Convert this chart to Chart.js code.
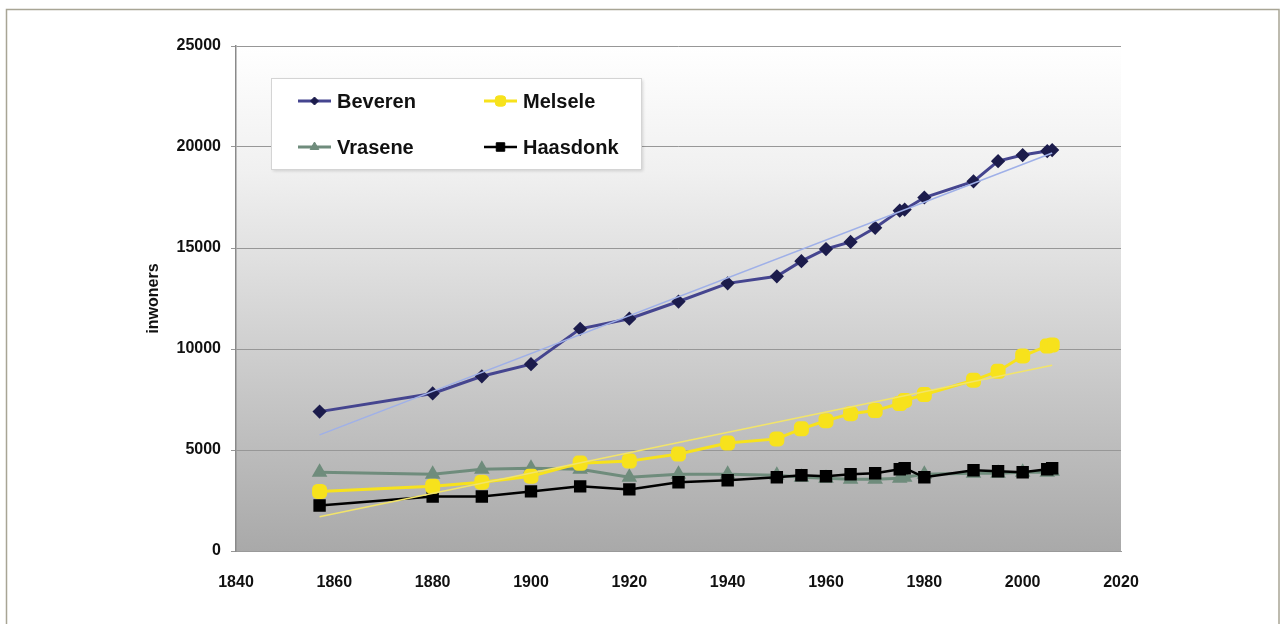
<!DOCTYPE html>
<html>
<head>
<meta charset="utf-8">
<script src="https://cdn.jsdelivr.net/npm/chart.js@4"></script>
<style>
    body { margin: 0; background: #fff; }
    #wrap { position: relative; width: 1285px; height: 624px; }
</style>
</head>
<body>
<div id="wrap"><canvas id="popChart" width="1285" height="624"></canvas></div>
<script>
// census years and inhabitants per deelgemeente
var years = [1857, 1880, 1890, 1900, 1910, 1920, 1930, 1940, 1950, 1955, 1960, 1965, 1970, 1975, 1976, 1980, 1990, 1995, 2000, 2005, 2006];
var beveren  = [6900, 7800, 8650, 9250, 11000, 11500, 12350, 13250, 13600, 14350, 14950, 15300, 16000, 16850, 16900, 17500, 18300, 19300, 19600, 19800, 19850];
var melsele  = [2950, 3200, 3400, 3700, 4350, 4450, 4800, 5350, 5550, 6050, 6450, 6800, 6950, 7300, 7450, 7750, 8450, 8900, 9650, 10150, 10200];
var vrasene  = [3900, 3800, 4050, 4100, 4050, 3650, 3800, 3800, 3750, 3650, 3600, 3550, 3550, 3600, 3650, 3800, 3850, 3850, 3900, 3900, 3950];
var haasdonk = [2250, 2700, 2700, 2950, 3200, 3050, 3400, 3500, 3650, 3750, 3700, 3800, 3850, 4050, 4100, 3650, 4000, 3950, 3900, 4050, 4100];

// trend lines (at both ends)
var trendYears = [1857, 2006];
var beverenTrend = [5750, 19700];
var melseleTrend = [1700, 9200];

var seriesNames = ['Beveren', 'Melsele', 'Vrasene', 'Haasdonk'];

var xTicks = [1840, 1860, 1880, 1900, 1920, 1940, 1960, 1980, 2000, 2020];
var yTicks = [0, 5000, 10000, 15000, 20000, 25000];

function toPoints(xs, ys) {
    return xs.map(function(x, i) { return { x: x, y: ys[i] }; });
}

var font = "'Liberation Sans', Arial, sans-serif";

// frame + plot background
var backgroundPlugin = {
    id: 'bg',
    beforeDraw: function(chart) {
        var ctx = chart.ctx, a = chart.chartArea;
        ctx.save();
        ctx.strokeStyle = '#a8a595';
        ctx.lineWidth = 1.5;
        ctx.strokeRect(6.5, 9.5, 1272.5, 640);
        var g = ctx.createLinearGradient(0, a.top, 0, a.bottom);
        g.addColorStop(0, '#ffffff');
        g.addColorStop(0.25, '#f0f0f0');
        g.addColorStop(0.6, '#cfcfcf');
        g.addColorStop(1, '#a9a9a9');
        ctx.fillStyle = g;
        ctx.fillRect(a.left, a.top, a.right - a.left, a.bottom - a.top);
        ctx.restore();
    }
};

// legend box inside the plot, two columns
var legendPlugin = {
    id: 'boxLegend',
    afterDraw: function(chart) {
        var ctx = chart.ctx;
        ctx.save();
        ctx.shadowColor = 'rgba(0,0,0,0.15)';
        ctx.shadowOffsetX = 2;
        ctx.shadowOffsetY = 2;
        ctx.shadowBlur = 3;
        ctx.fillStyle = '#ffffff';
        ctx.fillRect(271, 78, 370, 91);
        ctx.shadowColor = 'transparent';
        ctx.strokeStyle = '#d4d4d4';
        ctx.lineWidth = 1;
        ctx.strokeRect(271.5, 78.5, 370, 91);

        var slots = [
            { x: 298, y: 101 },
            { x: 484, y: 101 },
            { x: 298, y: 147 },
            { x: 484, y: 147 }
        ];
        chart.data.datasets.forEach(function(ds) {
            if (ds.isTrend) return;
            var s = slots[ds.legendSlot];
            ctx.strokeStyle = ds.borderColor;
            ctx.lineWidth = ds.borderWidth;
            ctx.beginPath();
            ctx.moveTo(s.x, s.y);
            ctx.lineTo(s.x + 33, s.y);
            ctx.stroke();
            ctx.fillStyle = ds.backgroundColor;
            ctx.strokeStyle = ds.pointBorderColor;
            ctx.lineWidth = 1;
            Chart.helpers.drawPoint(ctx, {
                pointStyle: ds.pointStyle,
                radius: ds.pointRadius - 1,
                borderWidth: 1
            }, s.x + 16.5, s.y);
            ctx.fillStyle = '#111';
            ctx.font = 'bold 20px ' + font;
            ctx.textBaseline = 'middle';
            ctx.fillText(ds.label, s.x + 39, s.y + 1);
        });
        ctx.restore();
    }
};

var ctx = document.getElementById('popChart').getContext('2d');

new Chart(ctx, {
    type: 'scatter',
    data: {
        datasets: [
            {
                label: 'bevTrend', isTrend: true, order: 0,
                data: toPoints(trendYears, beverenTrend),
                showLine: true, borderColor: '#9fb0e8', borderWidth: 1.5,
                pointRadius: 0
            },
            {
                label: 'melTrend', isTrend: true, order: 0,
                data: toPoints(trendYears, melseleTrend),
                showLine: true, borderColor: '#f2e46a', borderWidth: 1.5,
                pointRadius: 0
            },
            {
                label: seriesNames[0], legendSlot: 0, order: 1,
                data: toPoints(years, beveren),
                showLine: true, borderColor: '#45458f', borderWidth: 3,
                pointStyle: 'rectRot', pointRadius: 5,
                backgroundColor: '#1c1c4c', pointBorderColor: '#1c1c4c'
            },
            {
                label: seriesNames[1], legendSlot: 1, order: 2,
                data: toPoints(years, melsele),
                showLine: true, borderColor: '#f7e21c', borderWidth: 3,
                pointStyle: 'rectRounded', pointRadius: 7,
                backgroundColor: '#f7e21c', pointBorderColor: '#f7e21c'
            },
            {
                label: seriesNames[2], legendSlot: 2, order: 4,
                data: toPoints(years, vrasene),
                showLine: true, borderColor: '#6f8c7c', borderWidth: 3,
                pointStyle: 'triangle', pointRadius: 6,
                backgroundColor: '#6f8c7c', pointBorderColor: '#6f8c7c'
            },
            {
                label: seriesNames[3], legendSlot: 3, order: 3,
                data: toPoints(years, haasdonk),
                showLine: true, borderColor: '#000000', borderWidth: 2.5,
                pointStyle: 'rect', pointRadius: 7,
                backgroundColor: '#000000', pointBorderColor: '#000000'
            }
        ]
    },
    options: {
        responsive: false,
        animation: false,
        layout: {
            padding: { left: 140, right: 164, top: 46, bottom: 30 }
        },
        plugins: {
            legend: { display: false },
            tooltip: { enabled: false }
        },
        scales: {
            x: {
                type: 'linear',
                min: 1840, max: 2020,
                afterBuildTicks: function(scale) {
                    scale.ticks = xTicks.map(function(v) { return { value: v }; });
                },
                afterFit: function(scale) { scale.height = 43; },
                grid: { display: false },
                border: { display: true, color: '#9a9a9a', width: 1 },
                ticks: {
                    padding: 14,
                    color: '#111',
                    font: { family: font, size: 16, weight: 'bold' },
                    callback: function(v) { return String(v); }
                }
            },
            y: {
                min: 0, max: 25000,
                afterBuildTicks: function(scale) {
                    scale.ticks = yTicks.map(function(v) { return { value: v }; });
                },
                afterFit: function(scale) { scale.width = 236 - 140; },
                grid: { color: '#979797', lineWidth: 1, tickLength: 5 },
                border: { display: true, color: '#8a8a8a', width: 1.5 },
                ticks: {
                    padding: 10,
                    color: '#111',
                    font: { family: font, size: 16, weight: 'bold' },
                    callback: function(v) { return String(v); }
                },
                title: {
                    display: true,
                    text: 'inwoners',
                    color: '#111',
                    font: { family: font, size: 16, weight: 'bold' },
                    padding: { top: 4, bottom: 4 }
                }
            }
        }
    },
    plugins: [backgroundPlugin, legendPlugin]
});
</script>
</body>
</html>
